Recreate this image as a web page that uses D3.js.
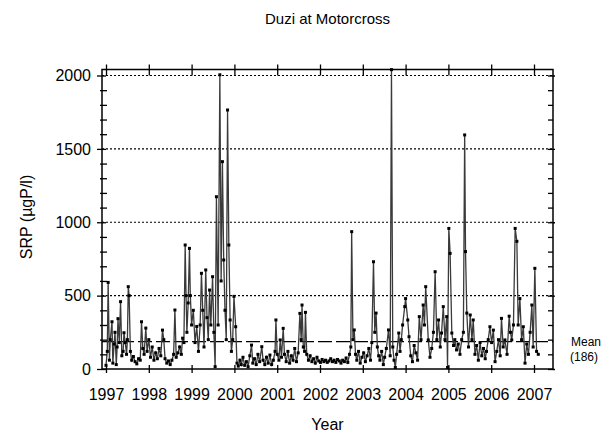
<!DOCTYPE html>
<html><head><meta charset="utf-8">
<script src="https://cdn.jsdelivr.net/npm/d3@7"></script>
<style>body{margin:0;background:#fff}svg{display:block}</style>
</head><body>
<svg id="chart" width="610" height="436"></svg>
<script>
// ---- data ----
const chartTitle = "Duzi at Motorcross";
const xAxisLabel = "Year";
const yAxisLabel = "SRP (µgP/l)";
const meanValue = 186;
const meanLabel = ["Mean", "(186)"];
const xTickValues = [1997,1998,1999,2000,2001,2002,2003,2004,2005,2006,2007];
const yTickValues = [0,500,1000,1500,2000];
const yMinorValues = [100,200,300,400,600,700,800,900,1100,1200,1300,1400,1600,1700,1800,1900];
const yGridValues = [500,1000,1500,2000];

const dates = [
 1997.00,1997.03,1997.05,1997.08,1997.10,1997.14,1997.16,1997.19,1997.21,1997.24,1997.26,1997.28,1997.31,1997.34,1997.37,1997.40,1997.42,1997.45,1997.48,1997.50,1997.52,1997.54,1997.57,1997.60,1997.64,1997.68,1997.72,1997.76,1997.80,1997.83,1997.86,1997.89,1997.93,1997.96,
 1998.00,1998.04,1998.08,1998.12,1998.16,1998.20,1998.24,1998.28,1998.32,1998.35,1998.38,1998.42,1998.46,1998.50,1998.54,1998.58,1998.61,1998.64,1998.68,1998.72,1998.76,1998.79,1998.82,1998.85,1998.87,1998.89,1998.92,1998.95,1998.97,
 1999.00,1999.04,1999.08,1999.12,1999.16,1999.20,1999.23,1999.26,1999.29,1999.33,1999.36,1999.39,1999.42,1999.45,1999.49,1999.52,1999.55,1999.58,1999.62,1999.66,1999.69,1999.72,1999.75,1999.78,1999.81,1999.84,1999.87,1999.90,1999.93,1999.96,1999.99,
 2000.03,2000.06,2000.09,2000.13,2000.16,2000.20,2000.24,2000.28,2000.32,2000.36,2000.40,2000.43,2000.47,2000.51,2000.55,2000.59,2000.64,2000.67,2000.71,2000.75,2000.79,2000.83,2000.87,2000.91,2000.95,2000.97,
 2001.00,2001.04,2001.07,2001.10,2001.14,2001.17,2001.21,2001.25,2001.29,2001.33,2001.37,2001.41,2001.45,2001.49,2001.53,2001.56,2001.58,2001.61,2001.64,2001.66,2001.69,2001.73,2001.77,2001.81,2001.85,2001.89,2001.93,2001.97,
 2002.01,2002.05,2002.09,2002.13,2002.17,2002.21,2002.25,2002.29,2002.33,2002.37,2002.41,2002.45,2002.49,2002.53,2002.57,2002.61,2002.65,2002.69,2002.72,2002.74,2002.77,2002.80,2002.83,2002.86,2002.90,2002.94,2002.98,
 2003.02,2003.06,2003.10,2003.14,2003.18,2003.21,2003.25,2003.28,2003.31,2003.34,2003.37,2003.40,2003.44,2003.48,2003.51,2003.55,2003.60,2003.64,2003.67,2003.70,2003.73,2003.76,2003.79,2003.84,2003.87,2003.90,2003.93,2003.98,
 2004.00,2004.05,2004.08,2004.12,2004.16,2004.20,2004.24,2004.28,2004.32,2004.36,2004.41,2004.44,2004.47,2004.53,2004.57,2004.61,2004.65,2004.69,2004.73,2004.77,2004.81,2004.84,2004.88,2004.92,2004.96,2004.98,
 2005.01,2005.04,2005.08,2005.12,2005.15,2005.19,2005.23,2005.27,2005.31,2005.35,2005.38,2005.40,2005.43,2005.47,2005.51,2005.55,2005.58,2005.62,2005.66,2005.70,2005.74,2005.78,2005.82,2005.86,2005.89,2005.93,2005.97,
 2006.01,2006.05,2006.09,2006.13,2006.17,2006.21,2006.24,2006.28,2006.32,2006.37,2006.42,2006.45,2006.48,2006.52,2006.56,2006.60,2006.63,2006.67,2006.71,2006.75,2006.79,2006.83,2006.87,2006.91,2006.95,2006.98,
 2007.02,2007.06,2007.10
];
const srp = [
 25,120,590,60,200,322,40,170,250,30,150,343,180,459,90,120,247,180,100,200,561,500,120,60,85,50,35,70,60,322,140,100,279,120,
 200,80,150,60,110,70,140,90,265,200,70,40,55,30,60,100,402,80,110,150,100,210,180,845,500,250,450,822,500,
 300,400,180,290,120,300,652,400,150,675,350,200,538,300,629,250,16,1174,300,2005,600,1413,743,400,200,1765,845,334,120,200,495,
 288,40,20,60,30,80,25,50,15,90,163,40,70,30,100,50,152,60,30,80,40,95,30,60,120,334,
 100,60,198,80,277,100,50,120,40,90,60,140,50,110,379,200,436,150,120,386,100,60,90,50,70,40,80,55,
 45,65,50,60,45,55,70,50,60,45,65,55,40,60,50,75,45,100,150,936,200,266,100,60,120,40,80,
 110,50,90,140,60,180,731,250,381,150,90,60,120,30,80,140,266,90,2040,150,60,10,100,245,120,200,300,425,
 480,334,220,90,50,160,110,60,357,200,436,300,561,198,80,140,250,663,200,334,150,245,425,200,357,10,
 958,788,245,160,200,130,170,100,200,250,1595,800,381,150,368,200,334,100,160,60,180,90,140,70,120,200,288,
 180,265,50,120,200,90,345,150,198,100,360,250,198,300,958,870,300,480,200,288,40,170,100,250,436,150,
 686,120,100
];

// ---- layout ----
const svg = d3.select("#chart");
const L = 102, R = 553, T = 69.5, B = 369;
const font = "'Liberation Sans', Arial, Helvetica, sans-serif";

const x = d3.scaleLinear().domain([1996.9065, 2007.4439]).range([L, R]);
const y = d3.scaleLinear().domain([0, 2041]).range([B, T]);

// gridlines
svg.append("g").selectAll("line").data(yGridValues).join("line")
  .attr("x1", L).attr("x2", R)
  .attr("y1", d => y(d)).attr("y2", d => y(d))
  .attr("stroke", "#000").attr("stroke-width", 1.2)
  .attr("stroke-dasharray", "2,2");

// mean line
svg.append("line")
  .attr("x1", L).attr("x2", R)
  .attr("y1", y(meanValue)).attr("y2", y(meanValue))
  .attr("stroke", "#000").attr("stroke-width", 1.2)
  .attr("stroke-dasharray", "14,4");

// series
const pts = dates.map((d, i) => [d, srp[i]]);
svg.append("path").datum(pts)
  .attr("fill", "none").attr("stroke", "#3a3a3a").attr("stroke-width", 1.3)
  .attr("d", d3.line().x(d => x(d[0])).y(d => y(d[1])));
svg.append("g").selectAll("rect").data(pts).join("rect")
  .attr("x", d => x(d[0]) - 1.5).attr("y", d => y(d[1]) - 1.5)
  .attr("width", 3).attr("height", 3).attr("fill", "#000");

// frame
svg.append("rect").attr("x", L).attr("y", T).attr("width", R - L).attr("height", B - T)
  .attr("fill", "none").attr("stroke", "#000").attr("stroke-width", 1.5);

function styleAxis(g) {
  g.select(".domain").remove();
  g.selectAll(".tick line").attr("stroke", "#000").attr("stroke-width", 1.3);
  g.selectAll("text").attr("font-family", font).attr("font-size", 16).attr("fill", "#000");
}

// left axis (labels + outward ticks), inward ticks
svg.append("g").attr("transform", `translate(${L},0)`)
  .call(d3.axisLeft(y).tickValues(yTickValues).tickSize(5).tickPadding(6).tickFormat(d3.format("d")).tickSizeOuter(0)).call(styleAxis);
svg.append("g").attr("transform", `translate(${L},0)`)
  .call(d3.axisRight(y).tickValues(yTickValues).tickSize(4).tickFormat("").tickSizeOuter(0)).call(styleAxis);
svg.append("g").attr("transform", `translate(${L},0)`)
  .call(d3.axisLeft(y).tickValues(yMinorValues).tickSize(2).tickFormat("").tickSizeOuter(0)).call(styleAxis);
svg.append("g").attr("transform", `translate(${L},0)`)
  .call(d3.axisRight(y).tickValues(yMinorValues).tickSize(5).tickFormat("").tickSizeOuter(0)).call(styleAxis);

// right axis ticks (mostly inward)
svg.append("g").attr("transform", `translate(${R},0)`)
  .call(d3.axisLeft(y).tickValues(yTickValues.concat(yMinorValues)).tickSize(5).tickFormat("").tickSizeOuter(0)).call(styleAxis);
svg.append("g").attr("transform", `translate(${R},0)`)
  .call(d3.axisRight(y).tickValues(yTickValues).tickSize(2).tickFormat("").tickSizeOuter(0)).call(styleAxis);

// bottom axis
const bx = svg.append("g").attr("transform", `translate(0,${B})`)
  .call(d3.axisBottom(x).tickValues(xTickValues).tickSize(4).tickPadding(16).tickFormat(d3.format("d")).tickSizeOuter(0)).call(styleAxis);
bx.selectAll("text").attr("dy", null).attr("y", 31);
svg.append("g").attr("transform", `translate(0,${B})`)
  .call(d3.axisTop(x).tickValues(xTickValues).tickSize(4).tickFormat("").tickSizeOuter(0)).call(styleAxis);

// top axis
svg.append("g").attr("transform", `translate(0,${T})`)
  .call(d3.axisTop(x).tickValues(xTickValues).tickSize(5).tickFormat("").tickSizeOuter(0)).call(styleAxis);
svg.append("g").attr("transform", `translate(0,${T})`)
  .call(d3.axisBottom(x).tickValues(xTickValues).tickSize(6).tickFormat("").tickSizeOuter(0)).call(styleAxis);

// texts
svg.append("text").attr("x", (L + R) / 2).attr("y", 24).attr("text-anchor", "middle")
  .attr("font-family", font).attr("font-size", 15).text(chartTitle);
svg.append("text").attr("x", (L + R) / 2).attr("y", 430).attr("text-anchor", "middle")
  .attr("font-family", font).attr("font-size", 16).text(xAxisLabel);
svg.append("text").attr("transform", `translate(32,217) rotate(-90)`).attr("text-anchor", "middle")
  .attr("font-family", font).attr("font-size", 16).text(yAxisLabel);
svg.append("text").attr("x", 571).attr("y", 346)
  .attr("font-family", font).attr("font-size", 12).text(meanLabel[0]);
svg.append("text").attr("x", 570).attr("y", 361)
  .attr("font-family", font).attr("font-size", 12).text(meanLabel[1]);
</script>
</body></html>
